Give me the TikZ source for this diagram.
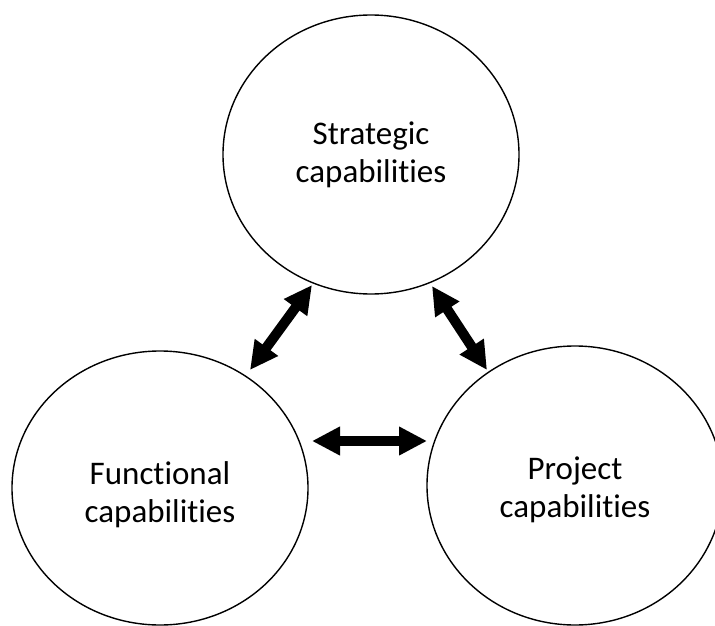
\documentclass[tikz,border=0pt]{standalone}
\usepackage{fontspec}
\setmainfont[Ligatures=NoCommon]{Carlito}
\usetikzlibrary{shapes.geometric,arrows.meta}
\begin{document}
\begin{tikzpicture}[x=1pt,y=-1pt,
  capnode/.style={draw, line width=1.4pt, ellipse, minimum width=296pt, minimum height=279pt,
    inner sep=0pt},
  captext/.style={align=center, inner sep=0pt, font=\fontsize{33}{38}\selectfont},
  biarrow/.style={line width=10pt, {Triangle[length=28pt,width=27pt]}-{Triangle[length=28pt,width=27pt]}}]
\useasboundingbox (0,0) rectangle (715,626);
\clip (0,0) rectangle (715,626);
\node[capnode] (strat) at (371,154.5) {};
\node[capnode, minimum height=274pt] (func) at (160,488) {};
\node[capnode] (proj) at (575,485.5) {};
\node[captext] (strattext) at (371,154.5) {Strategic\\capabilities};
\node[captext] (functext) at (160,494.5) {Functional\\capabilities};
\node[captext] (projtext) at (575,489.5) {Project\\capabilities};
\coordinate (sf1) at (312,285);
\coordinate (sf2) at (250,370);
\coordinate (sp1) at (432,286);
\coordinate (sp2) at (487,370);
\coordinate (fp1) at (312,441);
\coordinate (fp2) at (427,441);
\draw[biarrow] (sf1) -- (sf2);
\draw[biarrow] (sp1) -- (sp2);
\draw[biarrow] (fp1) -- (fp2);
\end{tikzpicture}
\end{document}
